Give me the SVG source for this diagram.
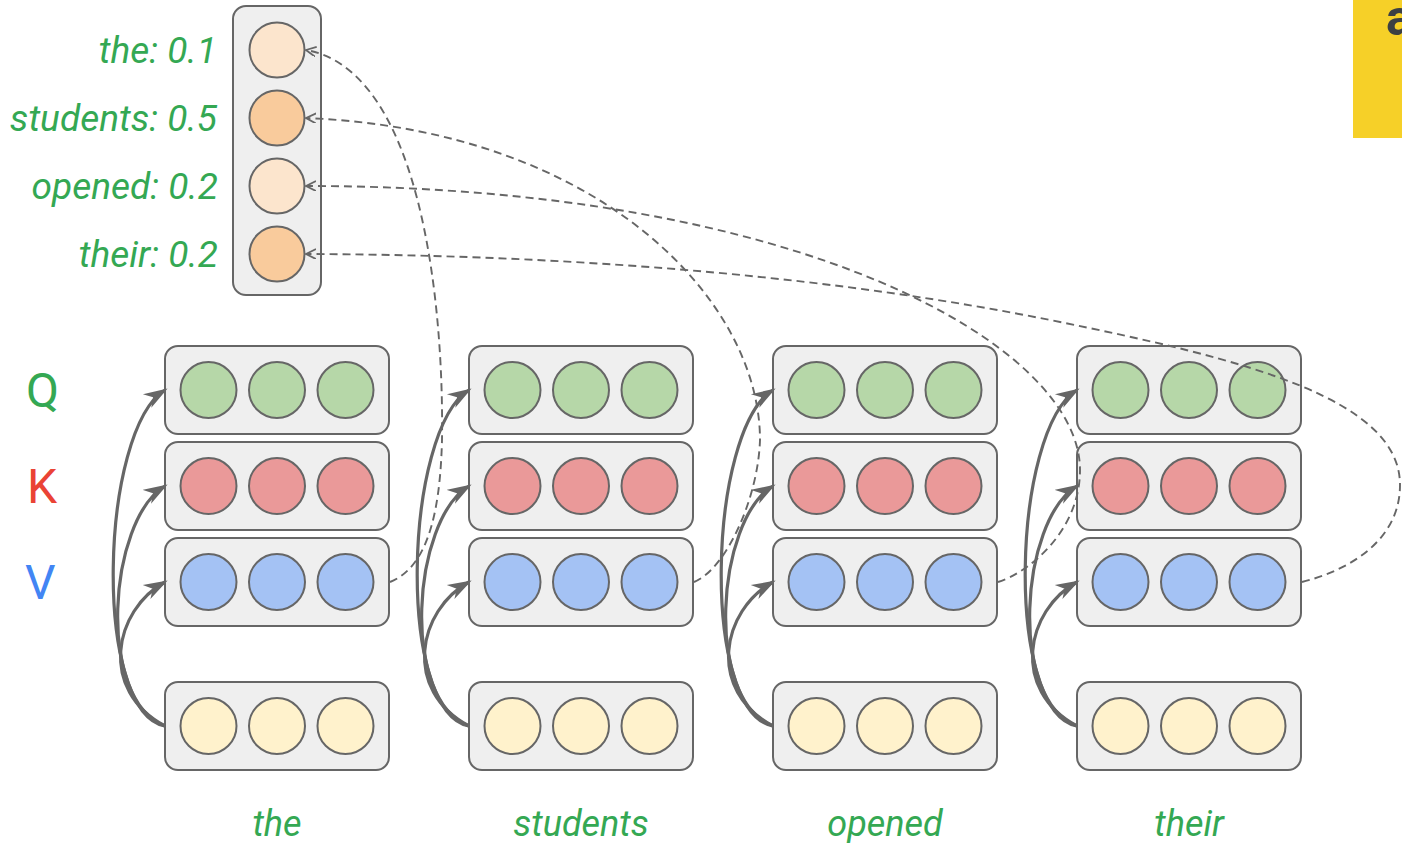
<svg xmlns="http://www.w3.org/2000/svg" width="1402" height="843" viewBox="0 0 1402 843">
<style>
.box{fill:#efefef;stroke:#666;stroke-width:2}
.c{stroke:#666;stroke-width:2}
.q{fill:#b6d7a8}.k{fill:#ea9999}.v{fill:#a4c2f4}.x{fill:#fff2cc}
.lo{fill:#fce5cd}.hi{fill:#f9cb9c}
.lab{font-family:Roboto,"Liberation Sans",sans-serif;font-style:italic;font-size:36px;fill:#34a853}
.att{font-size:37px}
.qkv{font-family:Roboto,"Liberation Sans",sans-serif;font-size:48px}
.solid{fill:none;stroke:#666;stroke-width:3.2;marker-end:url(#big)}
.dash{fill:none;stroke:#666;stroke-width:1.9;stroke-dasharray:8 5;marker-end:url(#small)}
</style>
<defs>
<marker id="big" markerUnits="userSpaceOnUse" markerWidth="28" markerHeight="20" refX="21" refY="9" orient="auto">
<path d="M0,1 L24,9 L0,17 L7,9 Z" fill="#666"/>
</marker>
<marker id="small" markerUnits="userSpaceOnUse" markerWidth="12" markerHeight="12" refX="10" refY="5" orient="auto">
<path d="M0,0 L10,5 L0,10" fill="none" stroke="#666" stroke-width="1.8"/>
</marker>
</defs>
<rect width="1402" height="843" fill="#fff"/>
<g id="corner">
<rect x="1353" y="-2" width="60" height="140" fill="#f6d028"/>
<text x="1386" y="35" font-family="Roboto,'Liberation Sans',sans-serif" font-weight="bold" font-size="50" fill="#3c4043">a</text>
</g>
<g id="attention">
<rect class="box" x="233" y="6" width="88" height="289" rx="13"/>
<circle class="c lo" cx="277" cy="50" r="27.5"/>
<circle class="c hi" cx="277" cy="118" r="27.5"/>
<circle class="c lo" cx="277" cy="186" r="27.5"/>
<circle class="c hi" cx="277" cy="254" r="27.5"/>
<text class="lab att" x="217" y="63" text-anchor="end">the: 0.1</text>
<text class="lab att" x="217" y="131" text-anchor="end">students: 0.5</text>
<text class="lab att" x="218" y="199" text-anchor="end">opened: 0.2</text>
<text class="lab att" x="218" y="267" text-anchor="end">their: 0.2</text>
</g>
<g id="qkv-labels">
<text class="qkv" x="26" y="407" fill="#34a853">Q</text>
<text class="qkv" x="27" y="503" fill="#ea4335">K</text>
<text class="qkv" x="25" y="599" fill="#4285f4">V</text>
</g>
<g id="col-the">
<g id="the-q"><rect class="box" x="165" y="346" width="224" height="88" rx="13"/><circle class="c q" cx="208.5" cy="390" r="28"/><circle class="c q" cx="277" cy="390" r="28"/><circle class="c q" cx="345.5" cy="390" r="28"/></g>
<g id="the-k"><rect class="box" x="165" y="442" width="224" height="88" rx="13"/><circle class="c k" cx="208.5" cy="486" r="28"/><circle class="c k" cx="277" cy="486" r="28"/><circle class="c k" cx="345.5" cy="486" r="28"/></g>
<g id="the-v"><rect class="box" x="165" y="538" width="224" height="88" rx="13"/><circle class="c v" cx="208.5" cy="582" r="28"/><circle class="c v" cx="277" cy="582" r="28"/><circle class="c v" cx="345.5" cy="582" r="28"/></g>
<g id="the-x"><rect class="box" x="165" y="682" width="224" height="88" rx="13"/><circle class="c x" cx="208.5" cy="726" r="28"/><circle class="c x" cx="277" cy="726" r="28"/><circle class="c x" cx="345.5" cy="726" r="28"/></g>
<text class="lab" x="277" y="836" text-anchor="middle">the</text>
</g>
<g id="col-students">
<g id="students-q"><rect class="box" x="469" y="346" width="224" height="88" rx="13"/><circle class="c q" cx="512.5" cy="390" r="28"/><circle class="c q" cx="581" cy="390" r="28"/><circle class="c q" cx="649.5" cy="390" r="28"/></g>
<g id="students-k"><rect class="box" x="469" y="442" width="224" height="88" rx="13"/><circle class="c k" cx="512.5" cy="486" r="28"/><circle class="c k" cx="581" cy="486" r="28"/><circle class="c k" cx="649.5" cy="486" r="28"/></g>
<g id="students-v"><rect class="box" x="469" y="538" width="224" height="88" rx="13"/><circle class="c v" cx="512.5" cy="582" r="28"/><circle class="c v" cx="581" cy="582" r="28"/><circle class="c v" cx="649.5" cy="582" r="28"/></g>
<g id="students-x"><rect class="box" x="469" y="682" width="224" height="88" rx="13"/><circle class="c x" cx="512.5" cy="726" r="28"/><circle class="c x" cx="581" cy="726" r="28"/><circle class="c x" cx="649.5" cy="726" r="28"/></g>
<text class="lab" x="581" y="836" text-anchor="middle">students</text>
</g>
<g id="col-opened">
<g id="opened-q"><rect class="box" x="773" y="346" width="224" height="88" rx="13"/><circle class="c q" cx="816.5" cy="390" r="28"/><circle class="c q" cx="885" cy="390" r="28"/><circle class="c q" cx="953.5" cy="390" r="28"/></g>
<g id="opened-k"><rect class="box" x="773" y="442" width="224" height="88" rx="13"/><circle class="c k" cx="816.5" cy="486" r="28"/><circle class="c k" cx="885" cy="486" r="28"/><circle class="c k" cx="953.5" cy="486" r="28"/></g>
<g id="opened-v"><rect class="box" x="773" y="538" width="224" height="88" rx="13"/><circle class="c v" cx="816.5" cy="582" r="28"/><circle class="c v" cx="885" cy="582" r="28"/><circle class="c v" cx="953.5" cy="582" r="28"/></g>
<g id="opened-x"><rect class="box" x="773" y="682" width="224" height="88" rx="13"/><circle class="c x" cx="816.5" cy="726" r="28"/><circle class="c x" cx="885" cy="726" r="28"/><circle class="c x" cx="953.5" cy="726" r="28"/></g>
<text class="lab" x="885" y="836" text-anchor="middle">opened</text>
</g>
<g id="col-their">
<g id="their-q"><rect class="box" x="1077" y="346" width="224" height="88" rx="13"/><circle class="c q" cx="1120.5" cy="390" r="28"/><circle class="c q" cx="1189" cy="390" r="28"/><circle class="c q" cx="1257.5" cy="390" r="28"/></g>
<g id="their-k"><rect class="box" x="1077" y="442" width="224" height="88" rx="13"/><circle class="c k" cx="1120.5" cy="486" r="28"/><circle class="c k" cx="1189" cy="486" r="28"/><circle class="c k" cx="1257.5" cy="486" r="28"/></g>
<g id="their-v"><rect class="box" x="1077" y="538" width="224" height="88" rx="13"/><circle class="c v" cx="1120.5" cy="582" r="28"/><circle class="c v" cx="1189" cy="582" r="28"/><circle class="c v" cx="1257.5" cy="582" r="28"/></g>
<g id="their-x"><rect class="box" x="1077" y="682" width="224" height="88" rx="13"/><circle class="c x" cx="1120.5" cy="726" r="28"/><circle class="c x" cx="1189" cy="726" r="28"/><circle class="c x" cx="1257.5" cy="726" r="28"/></g>
<text class="lab" x="1189" y="836" text-anchor="middle">their</text>
</g>
<g id="connectors">
<g id="projections">
<g>
<path class="solid" d="M165,726 C92,712 100,430 165,390"/>
<path class="solid" d="M165,726 C96,700 108,520 165,486"/>
<path class="solid" d="M165,726 C98,690 114,610 165,582"/>
</g>
<g transform="translate(304,0)">
<path class="solid" d="M165,726 C92,712 100,430 165,390"/>
<path class="solid" d="M165,726 C96,700 108,520 165,486"/>
<path class="solid" d="M165,726 C98,690 114,610 165,582"/>
</g>
<g transform="translate(608,0)">
<path class="solid" d="M165,726 C92,712 100,430 165,390"/>
<path class="solid" d="M165,726 C96,700 108,520 165,486"/>
<path class="solid" d="M165,726 C98,690 114,610 165,582"/>
</g>
<g transform="translate(912,0)">
<path class="solid" d="M165,726 C92,712 100,430 165,390"/>
<path class="solid" d="M165,726 C96,700 108,520 165,486"/>
<path class="solid" d="M165,726 C98,690 114,610 165,582"/>
</g>
</g>
<g id="weights">
<path class="dash" d="M390,582 C425,568 440,520 442,440 C444,300 420,70 306,50"/>
<path class="dash" d="M694,582 C725,570 758,500 760,440 C760,300 600,130 306,118"/>
<path class="dash" d="M998,582 C1030,572 1080,530 1080,470 C1080,345 800,186 306,186"/>
<path class="dash" d="M1302,582 C1350,570 1400,540 1400,485 C1400,400 1250,360 1050,320 C850,280 600,255 306,254"/>
</g>
</g>
</svg>
